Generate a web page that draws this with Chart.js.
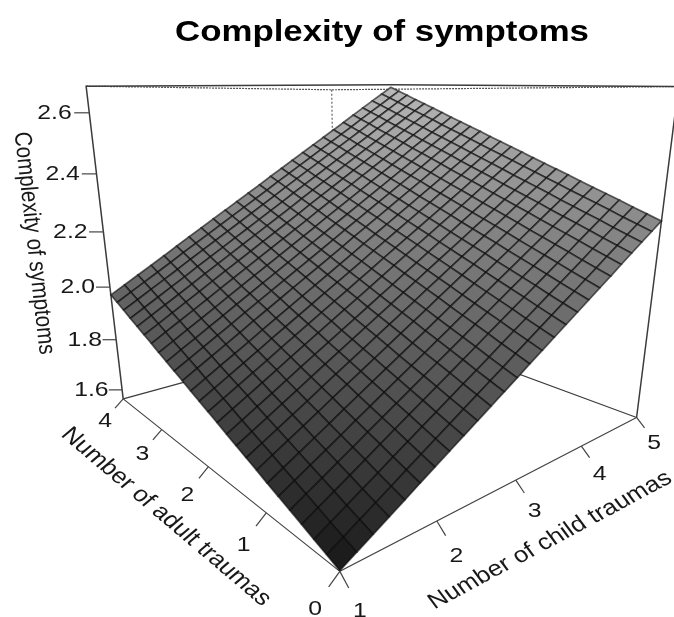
<!DOCTYPE html>
<html>
<head>
<meta charset="utf-8">
<style>
  html, body { margin: 0; padding: 0; background: #fff; }
  canvas { display: block; filter: blur(0.7px); }
</style>
<script src="https://cdn.jsdelivr.net/npm/chart.js@4"></script>
</head>
<body>
<canvas id="chart" width="674" height="617"></canvas>
<script>
// Values
const chartTitle = 'Complexity of symptoms';
const childTitle = 'Number of child traumas';
const adultTitle = 'Number of adult traumas';

const childTicks = [1, 2, 3, 4, 5];
const adultTicks = [0, 1, 2, 3, 4];
const zTicks = [1.6, 1.8, 2.0, 2.2, 2.4, 2.6];

const childRange = [1, 5];
const adultRange = [0, 4];
const zRange = [1.563, 2.684];

const childGrid = [1, 1.16, 1.32, 1.48, 1.64, 1.8, 1.96, 2.12, 2.28, 2.44, 2.6, 2.76, 2.92, 3.08, 3.24, 3.4, 3.56, 3.72, 3.88, 4.04, 4.2, 4.36, 4.52, 4.68, 4.84, 5];
const adultGrid = [0, 0.16, 0.32, 0.48, 0.64, 0.8, 0.96, 1.12, 1.28, 1.44, 1.6, 1.76, 1.92, 2.08, 2.24, 2.4, 2.56, 2.72, 2.88, 3.04, 3.2, 3.36, 3.52, 3.68, 3.84, 4];

// one row per adultGrid value, one column per childGrid value
const surfaceZ = [
  [1.565,1.593,1.621,1.649,1.677,1.706,1.734,1.762,1.790,1.818,1.846,1.874,1.902,1.931,1.959,1.987,2.015,2.043,2.071,2.099,2.127,2.156,2.184,2.212,2.240,2.268],
  [1.581,1.609,1.637,1.665,1.693,1.722,1.750,1.778,1.806,1.834,1.862,1.890,1.918,1.947,1.975,2.003,2.031,2.059,2.087,2.115,2.143,2.172,2.200,2.228,2.256,2.284],
  [1.597,1.625,1.653,1.681,1.709,1.738,1.766,1.794,1.822,1.850,1.878,1.906,1.934,1.963,1.991,2.019,2.047,2.075,2.103,2.131,2.159,2.188,2.216,2.244,2.272,2.300],
  [1.614,1.642,1.670,1.698,1.726,1.755,1.783,1.811,1.839,1.867,1.895,1.923,1.951,1.980,2.008,2.036,2.064,2.092,2.120,2.148,2.176,2.205,2.233,2.261,2.289,2.317],
  [1.630,1.658,1.686,1.714,1.742,1.771,1.799,1.827,1.855,1.883,1.911,1.939,1.967,1.996,2.024,2.052,2.080,2.108,2.136,2.164,2.192,2.221,2.249,2.277,2.305,2.333],
  [1.646,1.674,1.702,1.730,1.758,1.787,1.815,1.843,1.871,1.899,1.927,1.955,1.983,2.012,2.040,2.068,2.096,2.124,2.152,2.180,2.208,2.237,2.265,2.293,2.321,2.349],
  [1.662,1.690,1.718,1.746,1.774,1.803,1.831,1.859,1.887,1.915,1.943,1.971,1.999,2.028,2.056,2.084,2.112,2.140,2.168,2.196,2.224,2.253,2.281,2.309,2.337,2.365],
  [1.679,1.707,1.735,1.763,1.791,1.820,1.848,1.876,1.904,1.932,1.960,1.988,2.016,2.045,2.073,2.101,2.129,2.157,2.185,2.213,2.241,2.270,2.298,2.326,2.354,2.382],
  [1.695,1.723,1.751,1.779,1.807,1.836,1.864,1.892,1.920,1.948,1.976,2.004,2.032,2.061,2.089,2.117,2.145,2.173,2.201,2.229,2.257,2.286,2.314,2.342,2.370,2.398],
  [1.711,1.739,1.767,1.795,1.823,1.852,1.880,1.908,1.936,1.964,1.992,2.020,2.048,2.077,2.105,2.133,2.161,2.189,2.217,2.245,2.273,2.302,2.330,2.358,2.386,2.414],
  [1.727,1.755,1.783,1.811,1.839,1.868,1.896,1.924,1.952,1.980,2.008,2.036,2.064,2.093,2.121,2.149,2.177,2.205,2.233,2.261,2.289,2.318,2.346,2.374,2.402,2.430],
  [1.744,1.772,1.800,1.828,1.856,1.885,1.913,1.941,1.969,1.997,2.025,2.053,2.081,2.110,2.138,2.166,2.194,2.222,2.250,2.278,2.306,2.335,2.363,2.391,2.419,2.447],
  [1.760,1.788,1.816,1.844,1.872,1.901,1.929,1.957,1.985,2.013,2.041,2.069,2.097,2.126,2.154,2.182,2.210,2.238,2.266,2.294,2.322,2.351,2.379,2.407,2.435,2.463],
  [1.776,1.804,1.832,1.860,1.888,1.917,1.945,1.973,2.001,2.029,2.057,2.085,2.113,2.142,2.170,2.198,2.226,2.254,2.282,2.310,2.338,2.367,2.395,2.423,2.451,2.479],
  [1.792,1.820,1.848,1.876,1.904,1.933,1.961,1.989,2.017,2.045,2.073,2.101,2.129,2.158,2.186,2.214,2.242,2.270,2.298,2.326,2.354,2.383,2.411,2.439,2.467,2.495],
  [1.809,1.837,1.865,1.893,1.921,1.950,1.978,2.006,2.034,2.062,2.090,2.118,2.146,2.175,2.203,2.231,2.259,2.287,2.315,2.343,2.371,2.400,2.428,2.456,2.484,2.512],
  [1.825,1.853,1.881,1.909,1.937,1.966,1.994,2.022,2.050,2.078,2.106,2.134,2.162,2.191,2.219,2.247,2.275,2.303,2.331,2.359,2.387,2.416,2.444,2.472,2.500,2.528],
  [1.841,1.869,1.897,1.925,1.953,1.982,2.010,2.038,2.066,2.094,2.122,2.150,2.178,2.207,2.235,2.263,2.291,2.319,2.347,2.375,2.403,2.432,2.460,2.488,2.516,2.544],
  [1.857,1.885,1.913,1.941,1.969,1.998,2.026,2.054,2.082,2.110,2.138,2.166,2.194,2.223,2.251,2.279,2.307,2.335,2.363,2.391,2.419,2.448,2.476,2.504,2.532,2.560],
  [1.874,1.902,1.930,1.958,1.986,2.015,2.043,2.071,2.099,2.127,2.155,2.183,2.211,2.240,2.268,2.296,2.324,2.352,2.380,2.408,2.436,2.465,2.493,2.521,2.549,2.577],
  [1.890,1.918,1.946,1.974,2.002,2.031,2.059,2.087,2.115,2.143,2.171,2.199,2.227,2.256,2.284,2.312,2.340,2.368,2.396,2.424,2.452,2.481,2.509,2.537,2.565,2.593],
  [1.906,1.934,1.962,1.990,2.018,2.047,2.075,2.103,2.131,2.159,2.187,2.215,2.243,2.272,2.300,2.328,2.356,2.384,2.412,2.440,2.468,2.497,2.525,2.553,2.581,2.609],
  [1.922,1.950,1.978,2.006,2.034,2.063,2.091,2.119,2.147,2.175,2.203,2.231,2.259,2.288,2.316,2.344,2.372,2.400,2.428,2.456,2.484,2.513,2.541,2.569,2.597,2.625],
  [1.939,1.967,1.995,2.023,2.051,2.080,2.108,2.136,2.164,2.192,2.220,2.248,2.276,2.305,2.333,2.361,2.389,2.417,2.445,2.473,2.501,2.530,2.558,2.586,2.614,2.642],
  [1.955,1.983,2.011,2.039,2.067,2.096,2.124,2.152,2.180,2.208,2.236,2.264,2.292,2.321,2.349,2.377,2.405,2.433,2.461,2.489,2.517,2.546,2.574,2.602,2.630,2.658],
  [1.971,1.999,2.027,2.055,2.083,2.112,2.140,2.168,2.196,2.224,2.252,2.280,2.308,2.337,2.365,2.393,2.421,2.449,2.477,2.505,2.533,2.562,2.590,2.618,2.646,2.674]
];

// Camera for the perspective box
const YAW = 40.13 * Math.PI / 180;
const PITCH = 15.72 * Math.PI / 180;
const DIST = 3.8;
const FOCAL_X = 741;
const FOCAL_Y = 631.5;
const CENTER_X = 372.6;
const CENTER_Y = 258.6;
const TEXT_STRETCH = 1.18; // the source image is wider than it was drawn

const norm = (v, range) => 2 * (v - range[0]) / (range[1] - range[0]) - 1;

// box coordinates (-1..1 on each side) to the scale values of the chart
function project(nx, ny, nz) {
  const u = nx * Math.cos(YAW) - ny * Math.sin(YAW);
  const t = nx * Math.sin(YAW) + ny * Math.cos(YAW);
  const up = nz * Math.cos(PITCH) + t * Math.sin(PITCH);
  const w = DIST + t * Math.cos(PITCH) - nz * Math.sin(PITCH);
  return { x: CENTER_X + FOCAL_X * u / w, y: CENTER_Y - FOCAL_Y * up / w };
}

function at(c, a, z, dx = 0, dy = 0, dz = 0) {
  return project(norm(c, childRange) + dx, norm(a, adultRange) + dy, norm(z, zRange) + dz);
}

const [cLo, cHi] = childRange;
const [aLo, aHi] = adultRange;
const [zLo, zHi] = zRange;

function shade(z) {
  const k = (z - zLo) / (zHi - zLo);
  const g = Math.round(16 + 170 * Math.pow(k, 0.7));
  return `rgb(${g},${g},${g})`;
}

function lineSet(points, color, width, order, dash) {
  return {
    data: points, showLine: true, fill: false, pointRadius: 0, tension: 0,
    borderColor: color, borderWidth: width, borderDash: dash || [], order: order
  };
}

const datasets = [];

// box edges behind the surface
const boxColor = '#3c3c3c';
datasets.push(lineSet([at(cLo, aHi, zLo), at(cHi, aHi, zLo), at(cHi, aLo, zLo)], boxColor, 1.2, 3));
datasets.push(lineSet([at(cLo, aHi, zLo), at(cLo, aHi, zHi), at(cHi, aHi, zHi), at(cHi, aLo, zHi), at(cHi, aLo, zLo)], boxColor, 1.5, 3));
datasets.push(lineSet([at(cLo, aHi, zHi), at(cLo, aLo, zHi), at(cHi, aLo, zHi)], '#555', 1.2, 3, [2, 1]));
datasets.push(lineSet([at(cLo, aLo, zHi), at(cLo, aLo, zLo)], '#666', 1.2, 3, [2, 2]));

// axis edges and ticks
datasets.push(lineSet([at(cLo, aHi, zLo), at(cLo, aLo, zLo), at(cHi, aLo, zLo)], '#444', 1.2, 2));
childTicks.forEach(c => datasets.push(lineSet([at(c, aLo, zLo), at(c, aLo, zLo, 0, -0.052, -0.05)], '#444', 1.2, 2)));
adultTicks.forEach(a => datasets.push(lineSet([at(cLo, a, zLo), at(cLo, a, zLo, -0.052, 0, -0.05)], '#444', 1.2, 2)));
const zOutX = -Math.cos(YAW), zOutY = Math.sin(YAW);
zTicks.forEach(z => datasets.push(lineSet([at(cLo, aHi, z), at(cLo, aHi, z, zOutX * 0.075, zOutY * 0.075)], '#444', 1.2, 2)));

// surface, one closed polygon per cell
for (let j = 0; j < adultGrid.length - 1; j++) {
  for (let i = 0; i < childGrid.length - 1; i++) {
    const corners = [[i, j], [i + 1, j], [i + 1, j + 1], [i, j + 1], [i, j]];
    const pts = corners.map(([ci, cj]) => at(childGrid[ci], adultGrid[cj], surfaceZ[cj][ci]));
    const mean = (surfaceZ[j][i] + surfaceZ[j][i + 1] + surfaceZ[j + 1][i] + surfaceZ[j + 1][i + 1]) / 4;
    datasets.push({
      data: pts, showLine: true, fill: 'shape', pointRadius: 0, tension: 0,
      backgroundColor: shade(mean), borderColor: 'rgba(10,10,10,0.62)', borderWidth: 1.7, order: 1
    });
  }
}

function drawText(chart, text, pos, font, color, angle) {
  const { ctx, scales } = chart;
  ctx.save();
  ctx.translate(scales.x.getPixelForValue(pos.x), scales.y.getPixelForValue(pos.y));
  ctx.scale(TEXT_STRETCH, 1);
  if (angle) ctx.rotate(angle * Math.PI / 180);
  ctx.font = font;
  ctx.fillStyle = color;
  ctx.textAlign = 'center';
  ctx.textBaseline = 'middle';
  ctx.fillText(text, 0, 0);
  ctx.restore();
}

const FONT = '"Liberation Sans", Arial, sans-serif';
const labelPlugin = {
  id: 'labels',
  afterDraw(chart) {
    const tickFont = `21px ${FONT}`;
    const titleFont = `22px ${FONT}`;
    childTicks.forEach(c => drawText(chart, String(c), at(c, aLo, zLo, 0, -0.115, -0.125), tickFont, '#181818'));
    adultTicks.forEach(a => drawText(chart, String(a), at(cLo, a, zLo, -0.115, 0, -0.125), tickFont, '#181818'));
    zTicks.forEach(z => drawText(chart, z.toFixed(1), at(cLo, aHi, z, zOutX * 0.173, zOutY * 0.173), tickFont, '#181818'));
    drawText(chart, chartTitle, { x: 382, y: 33 }, `bold 29.5px ${FONT}`, '#000');
    drawText(chart, childTitle, at(2.54, -0.726, 1.55), titleFont, '#181818', -32.3);
    drawText(chart, adultTitle, at(0.36, 1.54, 1.55), titleFont, '#181818', 45);
    drawText(chart, chartTitle, at(cLo, aHi, 2.16, zOutX * 0.373, zOutY * 0.373), `20.5px ${FONT}`, '#181818', 84.5);
  }
};

new Chart(document.getElementById('chart'), {
  type: 'scatter',
  data: { datasets: datasets },
  options: {
    responsive: false,
    animation: false,
    devicePixelRatio: 1,
    layout: { padding: 0 },
    plugins: { legend: { display: false }, title: { display: false }, tooltip: { enabled: false } },
    scales: {
      x: { type: 'linear', display: false, min: 0, max: 674 },
      y: { type: 'linear', display: false, min: 0, max: 617, reverse: true }
    }
  },
  plugins: [labelPlugin]
});
</script>
</body>
</html>
